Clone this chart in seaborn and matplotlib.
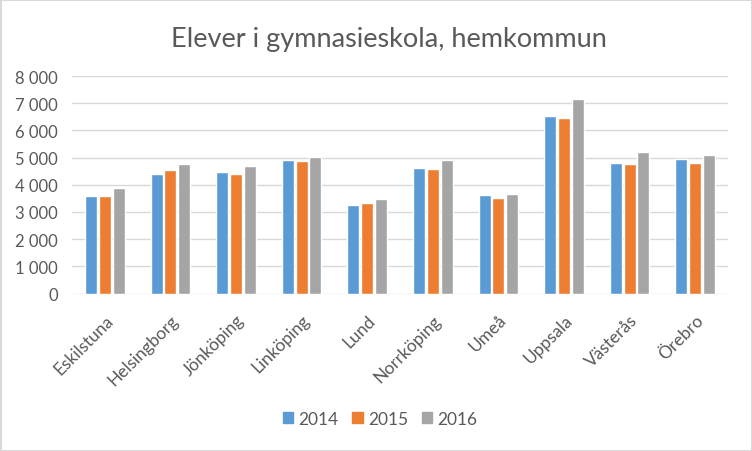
import matplotlib
matplotlib.use("Agg")
import matplotlib.pyplot as plt
import seaborn as sns
import pandas as pd
from matplotlib.patches import Rectangle

cities = ["Eskilstuna", "Helsingborg", "Jönköping", "Linköping", "Lund",
          "Norrköping", "Umeå", "Uppsala", "Västerås", "Örebro"]
years = ["2014", "2015", "2016"]
v2014 = [3590, 4400, 4470, 4910, 3260, 4620, 3620, 6540, 4800, 4950]
v2015 = [3590, 4550, 4400, 4880, 3330, 4580, 3510, 6460, 4770, 4800]
v2016 = [3880, 4770, 4690, 5020, 3480, 4910, 3660, 7160, 5210, 5100]
yticks = [0, 1000, 2000, 3000, 4000, 5000, 6000, 7000, 8000]
ytick_labels = ["0", "1 000", "2 000", "3 000", "4 000", "5 000", "6 000", "7 000", "8 000"]
colors = ["#5B9BD5", "#ED7D31", "#A5A5A5"]

rows = []
for y, vals in zip(years, [v2014, v2015, v2016]):
    for c, v in zip(cities, vals):
        rows.append({"Stad": c, "År": y, "Elever": v})
df = pd.DataFrame(rows)

sns.set_theme(style="white")
plt.rcParams['font.family'] = ['Lato', 'DejaVu Sans']

fig = plt.figure(figsize=(7.52, 4.52), dpi=100)
ax = fig.add_axes([72/752, 1-294.5/452, (728-72)/752, (294.5-77)/452])

sns.barplot(data=df, x="Stad", y="Elever", hue="År", palette=colors,
            width=0.63, gap=0.12, ax=ax, legend=True, saturation=1)

ax.set_ylim(0, 8000)
ax.set_xlim(-0.5, len(cities) - 0.5)
ax.set_yticks(yticks)
ax.set_yticklabels(ytick_labels, fontsize=12, color="#595959")
ax.set_xticks(range(len(cities)))
ax.set_xticklabels(cities, rotation=45, ha="right", rotation_mode="anchor",
                   fontsize=12.5, color="#595959")
ax.tick_params(axis="y", length=0, pad=10)
ax.tick_params(axis="x", length=0, pad=13)
ax.set_xlabel("")
ax.set_ylabel("")
ax.grid(axis="y", color="#D9D9D9", linewidth=1)
ax.set_axisbelow(True)
for s in ax.spines.values():
    s.set_visible(False)

ax.legend_.remove()
handles = [Rectangle((0, 0), 1, 1, color=c) for c in colors]
fig.legend(handles, years, loc="center", bbox_to_anchor=(380/752, 1-420/452),
           ncol=3, frameon=False, fontsize=12.5, handlelength=0.6, handleheight=0.6,
           handletextpad=0.3, columnspacing=0.8, labelcolor="#595959")

fig.text(389/752, 1-40/452, "Elever i gymnasieskola, hemkommun", ha="center", va="center",
         fontsize=19.5, color="#595959")

fig.patches.append(Rectangle((0.5/752, 0.5/452), 1-1/752, 1-1/452, transform=fig.transFigure,
                             fill=False, edgecolor="#D9D9D9", linewidth=1.5))

fig.savefig("out.png", dpi=100, facecolor="white")
